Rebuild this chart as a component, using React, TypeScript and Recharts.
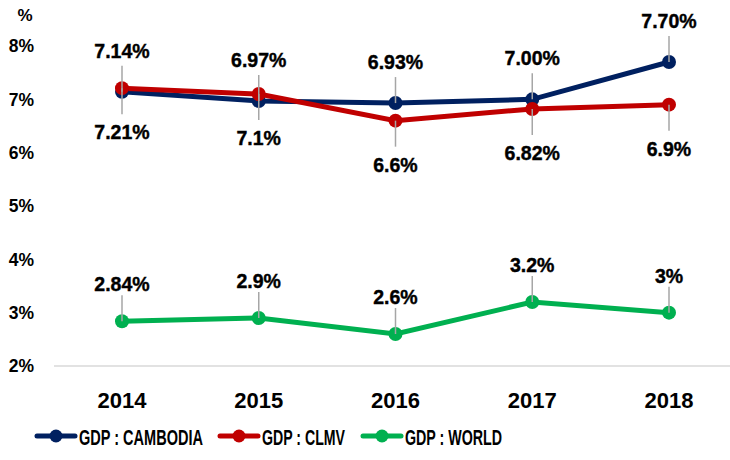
import { LineChart, Line, XAxis, YAxis, LabelList } from "recharts";

const years = ["2014", "2015", "2016", "2017", "2018"];
const cambodia = [7.14, 6.97, 6.93, 7.0, 7.7];
const clmv = [7.21, 7.1, 6.6, 6.82, 6.9];
const world = [2.84, 2.9, 2.6, 3.2, 3];
const cambodiaLabels = ["7.14%", "6.97%", "6.93%", "7.00%", "7.70%"];
const clmvLabels = ["7.21%", "7.1%", "6.6%", "6.82%", "6.9%"];
const worldLabels = ["2.84%", "2.9%", "2.6%", "3.2%", "3%"];
const yTicks = [2, 3, 4, 5, 6, 7, 8];

const data = years.map((year, i) => ({
  year,
  cambodia: cambodia[i],
  clmv: clmv[i],
  world: world[i],
}));

const series = [
  { key: "cambodia", name: "GDP : CAMBODIA", color: "#002060", x: 36, w: 124 },
  { key: "clmv", name: "GDP : CLMV", color: "#C00000", x: 219, w: 83 },
  { key: "world", name: "GDP : WORLD", color: "#00B050", x: 362, w: 97 },
];

const FONT = "'Liberation Sans', Arial, sans-serif";

function leaderLabel(texts: string[], dir: number, gap: number) {
  return (props: any) => {
    const { x, y, index } = props;
    return (
      <g>
        <line x1={x} y1={y} x2={x} y2={y + dir * 26} stroke="#a6a6a6" strokeWidth={1.5} />
        <text
          x={x}
          y={y + dir * gap}
          textAnchor="middle"
          dominantBaseline="central"
          fontFamily={FONT}
          fontWeight="bold"
          fontSize={19.5}
          fill="#000"
          stroke="#000"
          strokeWidth={0.4}
        >
          {texts[index]}
        </text>
      </g>
    );
  };
}

export default function App() {
  return (
    <div
      style={{
        position: "absolute",
        left: 0,
        top: 0,
        width: 730,
        height: 460,
        overflow: "hidden",
        background: "#fff",
      }}
    >
      <LineChart width={740} height={460} data={data} margin={{ top: 46, right: 6, left: 0, bottom: 0 }}>
        <XAxis
          dataKey="year"
          height={94}
          padding={{ left: 68, right: 65 }}
          tickLine={false}
          tickSize={0}
          tickMargin={26}
          axisLine={{ stroke: "#d9d9d9", strokeWidth: 1.5 }}
          tick={{ fill: "#000", fontSize: 22, fontWeight: "bold", fontFamily: FONT }}
        />
        <YAxis
          width={54}
          domain={[2, 8]}
          ticks={yTicks}
          interval={0}
          tickFormatter={(v) => `${v}%`}
          axisLine={false}
          tickLine={false}
          tickSize={0}
          tickMargin={20}
          tick={{ fill: "#000", fontSize: 17.5, fontWeight: "bold", fontFamily: FONT }}
          label={{
            content: (props: any) => (
              <text
                x={25}
                y={(props.viewBox?.y ?? 46) - 31}
                textAnchor="middle"
                dominantBaseline="central"
                fontFamily={FONT}
                fontWeight="bold"
                fontSize={17}
                fill="#000"
              >
                %
              </text>
            ),
          }}
        />
        <Line
          dataKey="world"
          stroke="#00B050"
          strokeWidth={5}
          dot={{ r: 7, fill: "#00B050", stroke: "#00B050", strokeWidth: 0 }}
          isAnimationActive={false}
        >
          <LabelList dataKey="world" content={leaderLabel(worldLabels, -1, 37)} />
        </Line>
        <Line
          dataKey="cambodia"
          stroke="#002060"
          strokeWidth={5}
          dot={{ r: 7, fill: "#002060", stroke: "#002060", strokeWidth: 0 }}
          isAnimationActive={false}
        >
          <LabelList dataKey="cambodia" content={leaderLabel(cambodiaLabels, -1, 41)} />
        </Line>
        <Line
          dataKey="clmv"
          stroke="#C00000"
          strokeWidth={5}
          dot={{ r: 7, fill: "#C00000", stroke: "#C00000", strokeWidth: 0 }}
          isAnimationActive={false}
        >
          <LabelList dataKey="clmv" content={leaderLabel(clmvLabels, 1, 44)} />
        </Line>
      </LineChart>
      <svg
        width={730}
        height={30}
        style={{ position: "absolute", left: 0, top: 422 }}
      >
        {series.map((s) => (
          <g key={s.key}>
            <line x1={s.x + 1} y1={14} x2={s.x + 39} y2={14} stroke={s.color} strokeWidth={5} strokeLinecap="round" />
            <circle cx={s.x + 20} cy={14} r={6.5} fill={s.color} />
            <text
              x={s.x + 43}
              y={15}
              dominantBaseline="central"
              textLength={s.w}
              lengthAdjust="spacingAndGlyphs"
              fontFamily={FONT}
              fontWeight="bold"
              fontSize={22}
              fill="#000"
            >
              {s.name}
            </text>
          </g>
        ))}
      </svg>
    </div>
  );
}
